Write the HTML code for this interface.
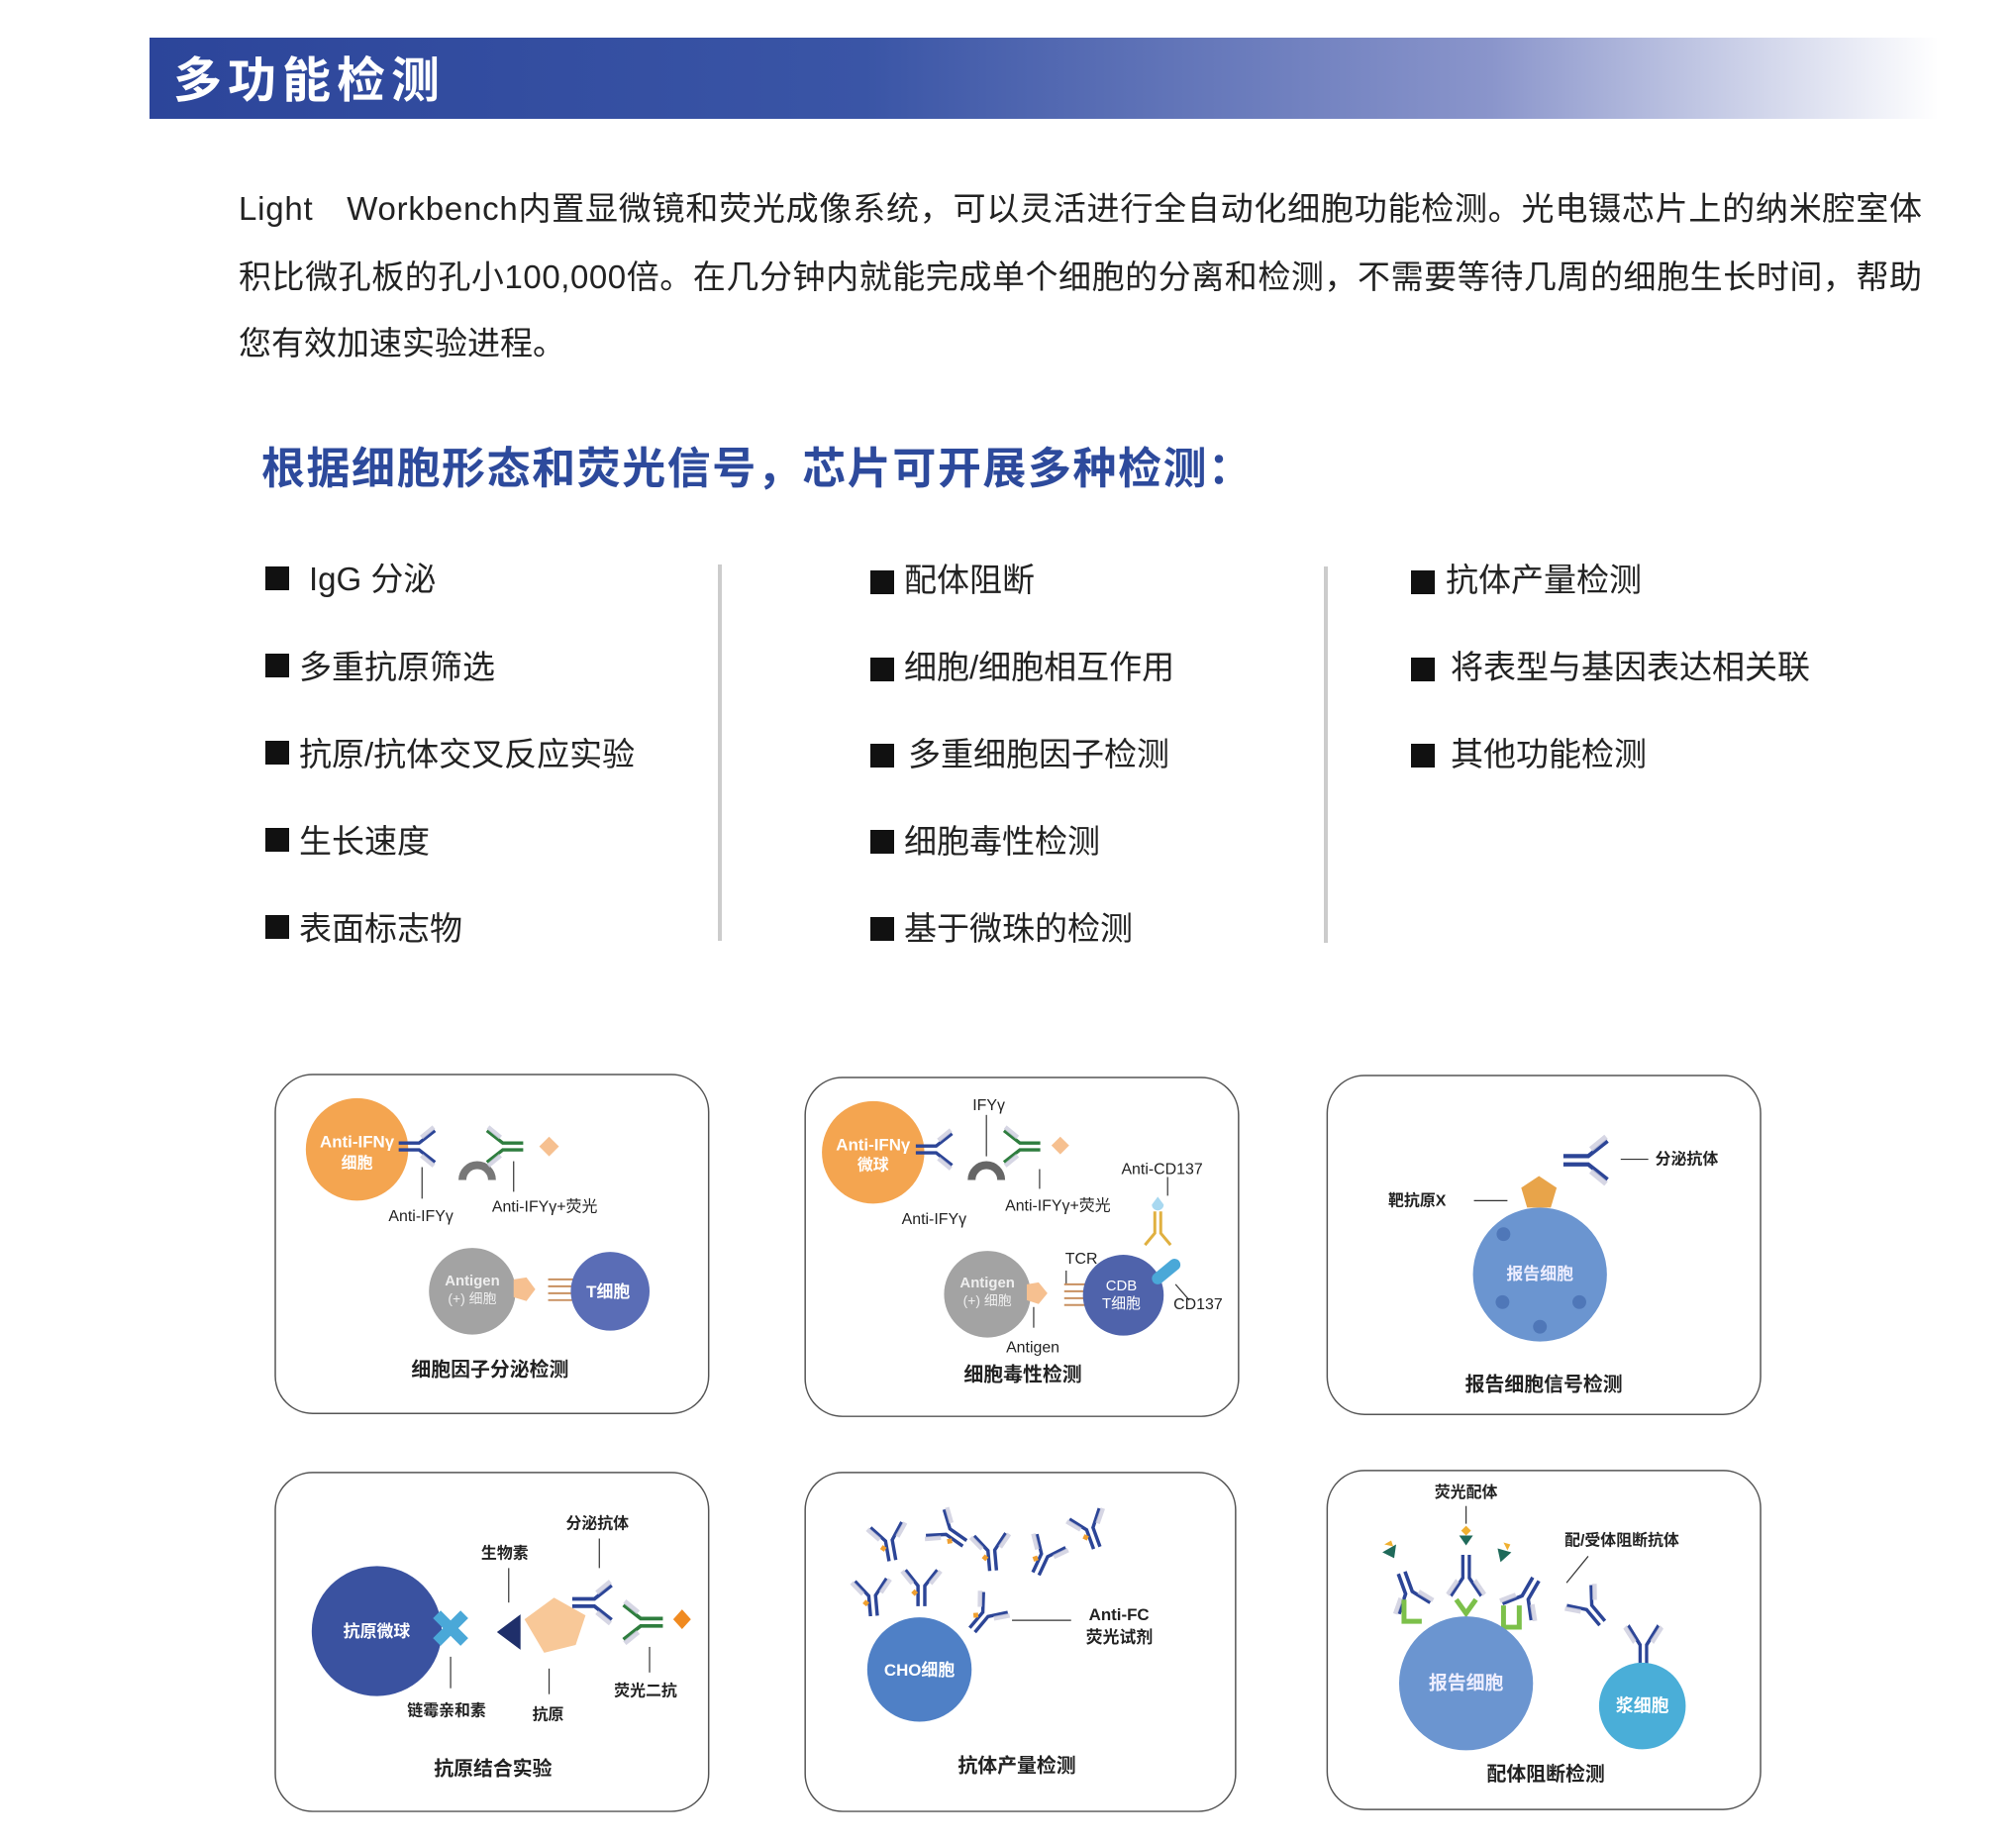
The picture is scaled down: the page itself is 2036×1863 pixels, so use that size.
<!DOCTYPE html>
<html><head><meta charset="utf-8"><style>
html,body{margin:0;padding:0;background:#fff}
body{width:2036px;height:1858px;overflow:hidden;position:relative;font-family:"Liberation Sans","Noto Sans CJK SC",sans-serif}
svg text{font-family:"Liberation Sans","Noto Sans CJK SC",sans-serif}
</style></head><body>
<svg width="2036" height="1858" viewBox="0 0 2036 1858" xmlns="http://www.w3.org/2000/svg">
<defs>
<linearGradient id="hg" x1="0" x2="1" y1="0" y2="0">
<stop offset="0" stop-color="#2c459a"/><stop offset="0.4" stop-color="#3a55a6"/><stop offset="0.75" stop-color="#8a95cb"/><stop offset="1" stop-color="#ffffff"/></linearGradient>
<g id="ab">
<path d="M-3,18 V0 L-14,-14 M3,18 V0 L14,-14" fill="none" stroke="#2c4597" stroke-width="3"/>
<path d="M-8,-2 L-17,-13 M8,-2 L17,-13" fill="none" stroke="#ccd" stroke-width="4" opacity="0.8"/>
</g>
<g id="abf"><use href="#ab"/><path d="M-9,6 l3,-3 l3,3 l-3,3z" fill="#f0a030"/></g>
<g id="abg">
<path d="M-3,18 V0 L-14,-14 M3,18 V0 L14,-14" fill="none" stroke="#2e7d3e" stroke-width="3"/>
<path d="M-8,-2 L-17,-13 M8,-2 L17,-13" fill="none" stroke="#ccd" stroke-width="4" opacity="0.8"/>
</g>
</defs>
<rect x="151" y="38" width="1807" height="82" fill="url(#hg)"/>
<text x="175" y="98" font-size="49" font-weight="bold" fill="#fff" letter-spacing="6">多功能检测</text>
<g font-size="33" fill="#222">
<text x="241" y="222" textLength="1700">Light　Workbench内置显微镜和荧光成像系统，可以灵活进行全自动化细胞功能检测。光电镊芯片上的纳米腔室体</text>
<text x="241" y="291" textLength="1700">积比微孔板的孔小100,000倍。在几分钟内就能完成单个细胞的分离和检测，不需要等待几周的细胞生长时间，帮助</text>
<text x="241" y="358">您有效加速实验进程。</text>
</g>
<text x="264" y="488" font-size="44" font-weight="bold" fill="#2d4a9c" textLength="1000">根据细胞形态和荧光信号，芯片可开展多种检测：</text>
<g font-size="33" fill="#222">
<rect x="268" y="572" width="24" height="24" fill="#111"/><text x="312" y="596">IgG 分泌</text>
<rect x="268" y="660" width="24" height="24" fill="#111"/><text x="302" y="685">多重抗原筛选</text>
<rect x="268" y="748" width="24" height="24" fill="#111"/><text x="302" y="773">抗原/抗体交叉反应实验</text>
<rect x="268" y="836" width="24" height="24" fill="#111"/><text x="302" y="861">生长速度</text>
<rect x="268" y="924" width="24" height="24" fill="#111"/><text x="302" y="949">表面标志物</text>
<rect x="879" y="576" width="24" height="24" fill="#111"/><text x="913" y="597">配体阻断</text>
<rect x="879" y="664" width="24" height="24" fill="#111"/><text x="913" y="685">细胞/细胞相互作用</text>
<rect x="879" y="751" width="24" height="24" fill="#111"/><text x="917" y="773">多重细胞因子检测</text>
<rect x="879" y="838" width="24" height="24" fill="#111"/><text x="913" y="861">细胞毒性检测</text>
<rect x="879" y="926" width="24" height="24" fill="#111"/><text x="913" y="949">基于微珠的检测</text>
<rect x="1425" y="576" width="24" height="24" fill="#111"/><text x="1460" y="597">抗体产量检测</text>
<rect x="1425" y="664" width="24" height="24" fill="#111"/><text x="1465" y="685">将表型与基因表达相关联</text>
<rect x="1425" y="751" width="24" height="24" fill="#111"/><text x="1465" y="773">其他功能检测</text>
</g>
<rect x="725" y="570" width="4" height="380" fill="#ccc"/>
<rect x="1337" y="572" width="4" height="380" fill="#ccc"/>

<g transform="matrix(0.9947 0 0 0.9947 0.5 1.8)">
<g fill="#fff" stroke="#555" stroke-width="1.5">
<rect x="279" y="1089" width="440" height="344" rx="38"/>
<rect x="817" y="1092" width="440" height="344" rx="38"/>
<rect x="1347" y="1090" width="440" height="344" rx="38"/>
<rect x="279" y="1493" width="440" height="344" rx="38"/>
<rect x="817" y="1493" width="437" height="344" rx="38"/>
<rect x="1347" y="1491" width="440" height="344" rx="38"/>
</g>

<!-- card1 -->
<g>
<circle cx="362" cy="1165" r="52" fill="#f4a550"/>
<text x="362" y="1163" font-size="17" font-weight="bold" fill="#fff" text-anchor="middle">Anti-IFNγ</text>
<text x="362" y="1184" font-size="16" font-weight="bold" fill="#fff" text-anchor="middle">细胞</text>
<use href="#ab" transform="translate(425,1162) rotate(90) scale(1.15)"/>
<path d="M469,1196 a15,15 0 0 1 30,0" fill="none" stroke="#777" stroke-width="8"/>
<use href="#abg" transform="translate(510,1162) rotate(-90) scale(1.15)"/>
<path d="M557,1152 l10,10 l-10,10 l-10,-10z" fill="#f6c090"/>
<g stroke="#333" stroke-width="1.2"><line x1="428" y1="1183" x2="428" y2="1215"/><line x1="521" y1="1177" x2="521" y2="1208"/></g>
<text x="394" y="1238" font-size="16" fill="#222">Anti-IFYγ</text>
<text x="499" y="1228" font-size="16" fill="#222">Anti-IFYγ+荧光</text>
<circle cx="479" cy="1309" r="44" fill="#a3a3a3"/>
<text x="479" y="1303" font-size="15" font-weight="bold" fill="#eee" text-anchor="middle">Antigen</text>
<text x="479" y="1321" font-size="14" fill="#eee" text-anchor="middle">(+) 细胞</text>
<path d="M521,1297 l13,-2 l9,12 l-9,12 l-13,-4z" fill="#f6c090"/>
<g stroke="#c89060" stroke-width="2"><line x1="556" y1="1297" x2="584" y2="1297"/><line x1="556" y1="1304" x2="584" y2="1304"/><line x1="556" y1="1311" x2="584" y2="1311"/><line x1="556" y1="1318" x2="584" y2="1318"/></g>
<circle cx="619" cy="1309" r="40" fill="#5a6db6"/>
<text x="617" y="1315" font-size="17" font-weight="bold" fill="#fff" text-anchor="middle">T细胞</text>
<text x="497" y="1395" font-size="20" font-weight="bold" fill="#222" text-anchor="middle">细胞因子分泌检测</text>
</g>

<!-- card2 -->
<g>
<circle cx="886" cy="1168" r="52" fill="#f4a550"/>
<text x="886" y="1166" font-size="17" font-weight="bold" fill="#fff" text-anchor="middle">Anti-IFNγ</text>
<text x="886" y="1186" font-size="16" font-weight="bold" fill="#fff" text-anchor="middle">微球</text>
<use href="#ab" transform="translate(950,1165) rotate(90) scale(1.15)"/>
<path d="M986,1196 a15,15 0 0 1 30,0" fill="none" stroke="#666" stroke-width="8"/>
<use href="#abg" transform="translate(1035,1162) rotate(-90) scale(1.15)"/>
<path d="M1076,1152 l9,9 l-9,9 l-9,-9z" fill="#f6c090"/>
<g stroke="#333" stroke-width="1.2"><line x1="1001" y1="1130" x2="1001" y2="1172"/><line x1="1055" y1="1185" x2="1055" y2="1205"/><line x1="1185" y1="1193" x2="1185" y2="1212"/><line x1="1082" y1="1288" x2="1082" y2="1302"/><line x1="1049" y1="1325" x2="1049" y2="1346"/><line x1="1193" y1="1302" x2="1207" y2="1318"/></g>
<text x="987" y="1125" font-size="16" fill="#222">IFYγ</text>
<text x="1020" y="1227" font-size="16" fill="#222">Anti-IFYγ+荧光</text>
<text x="915" y="1241" font-size="16" fill="#222">Anti-IFYγ</text>
<text x="1138" y="1190" font-size="16" fill="#222">Anti-CD137</text>
<path d="M1175,1213 l6,8 a6,6 0 1 1 -12,0z" fill="#a8d8f0"/>
<path d="M1172,1228 V1250 L1162,1262 M1178,1228 V1250 L1188,1262" fill="none" stroke="#e0b040" stroke-width="3"/>
<circle cx="1002" cy="1312" r="44" fill="#a3a3a3"/>
<text x="1002" y="1305" font-size="15" font-weight="bold" fill="#eee" text-anchor="middle">Antigen</text>
<text x="1002" y="1323" font-size="14" fill="#eee" text-anchor="middle">(+) 细胞</text>
<path d="M1042,1302 l12,-2 l9,11 l-9,11 l-12,-4z" fill="#f6c090"/>
<g stroke="#c89060" stroke-width="2"><line x1="1080" y1="1302" x2="1108" y2="1302"/><line x1="1080" y1="1309" x2="1108" y2="1309"/><line x1="1080" y1="1316" x2="1108" y2="1316"/><line x1="1080" y1="1323" x2="1108" y2="1323"/></g>
<circle cx="1140" cy="1313" r="41" fill="#4f63ab"/>
<text x="1138" y="1308" font-size="15" fill="#fff" text-anchor="middle">CDB</text>
<text x="1138" y="1326" font-size="15" fill="#fff" text-anchor="middle">T细胞</text>
<line x1="1175" y1="1296" x2="1192" y2="1282" stroke="#4aa8d8" stroke-width="12" stroke-linecap="round"/>
<text x="1081" y="1281" font-size="16" fill="#222">TCR</text>
<text x="1191" y="1327" font-size="16" fill="#222">CD137</text>
<text x="1021" y="1371" font-size="16" fill="#222">Antigen</text>
<text x="1038" y="1400" font-size="20" font-weight="bold" fill="#222" text-anchor="middle">细胞毒性检测</text>
</g>

<!-- card3 -->
<g>
<use href="#ab" transform="translate(1612,1176) rotate(90) scale(1.4)"/>
<line x1="1645" y1="1175" x2="1673" y2="1175" stroke="#333" stroke-width="1.2"/>
<text x="1680" y="1180" font-size="16" font-weight="bold" fill="#222">分泌抗体</text>
<path d="M1562,1192 l18,12 l-6,20 h-24 l-6,-20z" fill="#e8a44a"/>
<line x1="1496" y1="1217" x2="1530" y2="1217" stroke="#333" stroke-width="1.2"/>
<text x="1409" y="1222" font-size="16" font-weight="bold" fill="#222">靶抗原X</text>
<circle cx="1563" cy="1292" r="68" fill="#6b95d0"/>
<text x="1563" y="1297" font-size="17" font-weight="bold" fill="#eef" text-anchor="middle">报告细胞</text>
<g fill="#4f77b8"><circle cx="1526" cy="1251" r="7"/><circle cx="1525" cy="1320" r="7"/><circle cx="1563" cy="1345" r="7"/><circle cx="1603" cy="1320" r="7"/></g>
<text x="1567" y="1410" font-size="20" font-weight="bold" fill="#222" text-anchor="middle">报告细胞信号检测</text>
</g>

<!-- card4 -->
<g>
<circle cx="382" cy="1654" r="66" fill="#3a52a0"/>
<text x="382" y="1660" font-size="17" font-weight="bold" fill="#fff" text-anchor="middle">抗原微球</text>
<path d="M443,1637 l28,28 M471,1637 l-28,28" stroke="#4aa8d8" stroke-width="11"/>
<path d="M528,1637 v36 l-24,-18z" fill="#1f2f6a"/>
<path d="M532,1642 l30,-22 l32,18 l-10,30 l-32,8z" fill="#f8c898"/>
<use href="#ab" transform="translate(603,1625) rotate(90) scale(1.25)"/>
<use href="#abg" transform="translate(650,1645) rotate(-90) scale(1.25)"/>
<path d="M692,1632 l9,10 l-9,10 l-9,-10z" fill="#f08a20"/>
<g stroke="#333" stroke-width="1.2"><line x1="516" y1="1590" x2="516" y2="1625"/><line x1="608" y1="1560" x2="608" y2="1590"/><line x1="457" y1="1680" x2="457" y2="1712"/><line x1="557" y1="1692" x2="557" y2="1718"/><line x1="659" y1="1670" x2="659" y2="1696"/></g>
<text x="574" y="1550" font-size="16" font-weight="bold" fill="#222">分泌抗体</text>
<text x="488" y="1580" font-size="16" font-weight="bold" fill="#222">生物素</text>
<text x="413" y="1740" font-size="16" font-weight="bold" fill="#222">链霉亲和素</text>
<text x="540" y="1744" font-size="16" font-weight="bold" fill="#222">抗原</text>
<text x="623" y="1720" font-size="16" font-weight="bold" fill="#222">荧光二抗</text>
<text x="500" y="1800" font-size="20" font-weight="bold" fill="#222" text-anchor="middle">抗原结合实验</text>
</g>

<!-- card5 -->
<g>
<use href="#abf" transform="translate(902,1562) rotate(-10) scale(1.15)"/>
<use href="#abf" transform="translate(962,1553) rotate(-55) scale(1.15)"/>
<use href="#abf" transform="translate(1006,1572) rotate(-5) scale(1.15)"/>
<use href="#abf" transform="translate(1060,1577) rotate(25) scale(1.15)"/>
<use href="#abf" transform="translate(1106,1550) rotate(-20) scale(1.15)"/>
<use href="#abf" transform="translate(885,1618) rotate(-5) scale(1.15)"/>
<use href="#abf" transform="translate(935,1608) scale(1.15)"/>
<use href="#abf" transform="translate(1000,1637) rotate(40) scale(1.15)"/>
<line x1="1027" y1="1643" x2="1087" y2="1643" stroke="#333" stroke-width="1.2"/>
<text x="1105" y="1643" font-size="17" font-weight="bold" fill="#222">Anti-FC</text>
<text x="1102" y="1666" font-size="17" font-weight="bold" fill="#222">荧光试剂</text>
<circle cx="933" cy="1693" r="53" fill="#4f80c6"/>
<text x="933" y="1699" font-size="17" font-weight="bold" fill="#fff" text-anchor="middle">CHO细胞</text>
<text x="1032" y="1797" font-size="20" font-weight="bold" fill="#222" text-anchor="middle">抗体产量检测</text>
</g>

<!-- card6 -->
<g>
<text x="1488" y="1518" font-size="16" font-weight="bold" fill="#222" text-anchor="middle">荧光配体</text>
<line x1="1488" y1="1527" x2="1488" y2="1545" stroke="#333" stroke-width="1.2"/>
<path d="M1481,1557 h14 l-7,10z" fill="#1f6a5a"/><path d="M1488,1547 l5,5 l-5,5 l-5,-5z" fill="#f0b030"/>
<path d="M1403,1574 l14,-8 l-2,14z" fill="#1f6a5a"/><path d="M1405,1566 l7,-4 l2,6z" fill="#f0b030"/>
<path d="M1520,1570 l14,4 l-11,10z" fill="#1f6a5a"/><path d="M1526,1564 l7,2 l-3,6z" fill="#f0b030"/>
<text x="1588" y="1567" font-size="16" font-weight="bold" fill="#222">配/受体阻断抗体</text>
<line x1="1612" y1="1578" x2="1590" y2="1605" stroke="#333" stroke-width="1.2"/>
<use href="#ab" transform="translate(1488,1600) scale(1.1,-1.3)"/>
<use href="#ab" transform="translate(1430,1615) rotate(160) scale(1.2)"/>
<use href="#ab" transform="translate(1548,1620) rotate(-150) scale(1.2)"/>
<g fill="none" stroke="#7cc04a" stroke-width="5">
<path d="M1425,1622 v22 h18"/><path d="M1478,1622 l10,14 l10,-14"/><path d="M1542,1628 v22 h-16 v-22"/>
</g>
<use href="#ab" transform="translate(1613,1630) rotate(-40) scale(1.15)"/>
<use href="#ab" transform="translate(1668,1668) scale(1.1,1.4)"/>
<circle cx="1488" cy="1707" r="68" fill="#6b95d0"/>
<text x="1488" y="1713" font-size="19" font-weight="bold" fill="#eef" text-anchor="middle">报告细胞</text>
<circle cx="1667" cy="1730" r="44" fill="#4aaed8"/>
<text x="1667" y="1736" font-size="18" font-weight="bold" fill="#fff" text-anchor="middle">浆细胞</text>
<text x="1569" y="1806" font-size="20" font-weight="bold" fill="#222" text-anchor="middle">配体阻断检测</text>
</g>
</g>
</svg>
</body></html>
